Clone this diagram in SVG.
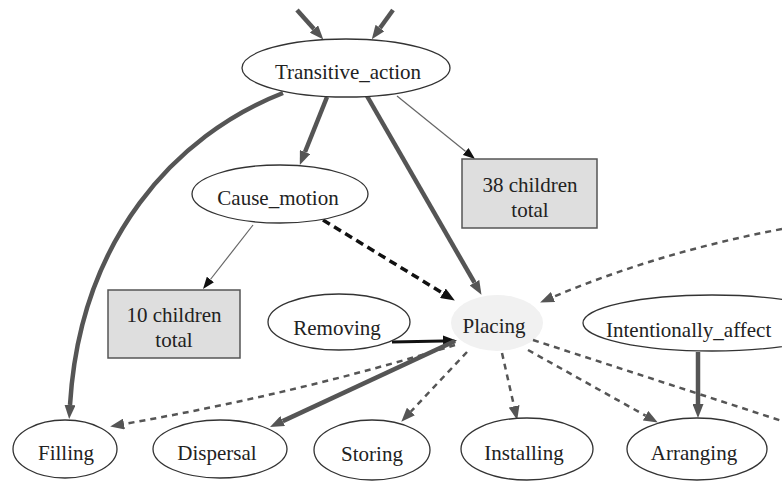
<svg xmlns="http://www.w3.org/2000/svg" width="782" height="486" viewBox="0 0 782 486">
<style>
.node ellipse{fill:#ffffff;stroke:#333333;stroke-width:1.3}
.box rect{fill:#dedede;stroke:#555555;stroke-width:1.5}
text{font-family:"Liberation Serif","Times New Roman",serif;font-size:21px;fill:#222222;text-anchor:middle}
.thick{fill:none;stroke:#555555;stroke-width:4.5}
.thin{fill:none;stroke:#666666;stroke-width:1.2}
.dblack{fill:none;stroke:#111111;stroke-width:3.5;stroke-dasharray:8 5}
.dgray{fill:none;stroke:#555555;stroke-width:2.5;stroke-dasharray:6 5}
.solid{fill:none;stroke:#111111;stroke-width:3}
</style>
<defs>
<marker id="ag" markerUnits="userSpaceOnUse" markerWidth="14" markerHeight="11" refX="0" refY="5.5" orient="auto"><path d="M0,0 L14,5.5 L0,11 z" fill="#555555"/></marker>
<marker id="ak" markerUnits="userSpaceOnUse" markerWidth="14" markerHeight="11" refX="0" refY="5.5" orient="auto"><path d="M0,0 L14,5.5 L0,11 z" fill="#111111"/></marker>
<marker id="at" markerUnits="userSpaceOnUse" markerWidth="12" markerHeight="9" refX="0" refY="4.5" orient="auto"><path d="M0,0 L12,4.5 L0,9 z" fill="#111111"/></marker>
</defs>
<rect width="782" height="486" fill="#ffffff"/>
<g id="Placing">
<ellipse cx="497" cy="323" rx="46" ry="28" fill="#f1f1f1"/>
<text x="494" y="333">Placing</text>
</g>
<g id="connectors">
<path class="thick" d="M297,10 L314,29" marker-end="url(#ag)"/>
<path class="thick" d="M393,10 L380,28" marker-end="url(#ag)"/>
<path class="thick" d="M327,97 L305,152" marker-end="url(#ag)"/>
<path class="thick" d="M367,96 L474.5,282.7" marker-end="url(#ag)"/>
<path class="thin" d="M397,96 L465.7,151.5" marker-end="url(#at)"/>
<path class="thick" d="M283,93 C175,135 80,240 70,405" marker-end="url(#ag)"/>
<path class="thin" d="M253,225 L210.4,279.5" marker-end="url(#at)"/>
<path class="dblack" d="M323,220 L442.9,293.2" marker-end="url(#ak)"/>
<path class="dgray" d="M782,229 Q660,252 553,297" marker-end="url(#ag)"/>
<path class="solid" d="M392,342 L443,341" marker-end="url(#ak)"/>
<path class="dgray" d="M455,345 Q300,393 124,424" marker-end="url(#ag)"/>
<path class="thick" d="M455,341 L282.7,421.1" marker-end="url(#ag)"/>
<path class="dgray" d="M467,352 L410.9,411.5" marker-end="url(#ag)"/>
<path class="dgray" d="M502,353 L514.1,406.3" marker-end="url(#ag)"/>
<path class="dgray" d="M528,350 L645.6,415.7" marker-end="url(#ag)"/>
<path class="dgray" d="M533,340 L782,421"/>
<path class="thick" d="M698,352 L698,404" marker-end="url(#ag)"/>
</g>
<g id="Transitive_action" class="node">
<ellipse cx="346" cy="68" rx="104" ry="29"/>
<text x="348" y="79">Transitive_action</text>
</g>
<g id="Cause_motion" class="node">
<ellipse cx="280" cy="194" rx="88" ry="29"/>
<text x="278" y="205">Cause_motion</text>
</g>
<g id="children38" class="box">
<rect x="462" y="159" width="135" height="69"/>
<text x="530" y="192">38 children</text>
<text x="530" y="217">total</text>
</g>
<g id="children10" class="box">
<rect x="108" y="290" width="132" height="68"/>
<text x="174" y="322">10 children</text>
<text x="174" y="347">total</text>
</g>
<g id="Removing" class="node">
<ellipse cx="339" cy="322" rx="71" ry="28"/>
<text x="337" y="335">Removing</text>
</g>
<g id="Intentionally_affected" class="node">
<ellipse cx="712" cy="323" rx="129" ry="28"/>
<text x="606" y="337" style="text-anchor:start">Intentionally_affect</text>
</g>
<g id="Filling" class="node">
<ellipse cx="65" cy="449" rx="52" ry="29"/>
<text x="66" y="460">Filling</text>
</g>
<g id="Dispersal" class="node">
<ellipse cx="220" cy="449" rx="67" ry="29"/>
<text x="217" y="460">Dispersal</text>
</g>
<g id="Storing" class="node">
<ellipse cx="372" cy="450" rx="58" ry="30"/>
<text x="372" y="461">Storing</text>
</g>
<g id="Installing" class="node">
<ellipse cx="527" cy="449" rx="66" ry="31"/>
<text x="524" y="460">Installing</text>
</g>
<g id="Arranging" class="node">
<ellipse cx="697" cy="449" rx="70" ry="31"/>
<text x="694" y="460">Arranging</text>
</g>
</svg>
